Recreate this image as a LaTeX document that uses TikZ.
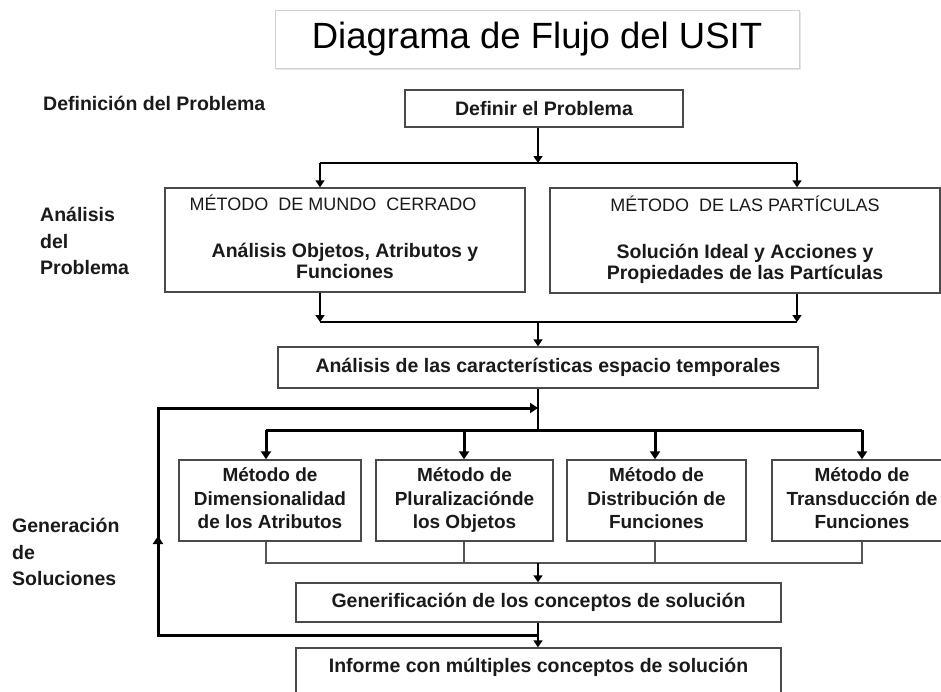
\documentclass[tikz,border=0pt]{standalone}
\usepackage{fontspec}
\setmainfont{Liberation Sans}
\usetikzlibrary{arrows.meta}
\definecolor{txt}{HTML}{1A1A1A}
\definecolor{boxgray}{HTML}{4A4A4A}
\definecolor{linegray}{HTML}{555555}
\newcommand{\hdrfont}{\fontsize{18}{21}\selectfont\mdseries}
\begin{document}
\begin{tikzpicture}[x=1pt,y=-1pt,
  box/.style={draw=boxgray, line width=1.4pt, fill=white, inner sep=0pt, align=center,
    font=\fontsize{19.5}{21}\selectfont\bfseries, text=txt},
  quad/.style={box, minimum height=81pt, font=\fontsize{19}{23.5}\selectfont\bfseries},
  lbl/.style={font=\fontsize{19.5}{26.5}\selectfont\bfseries, text=txt, anchor=west, align=left, inner sep=0pt},
  conn/.style={draw=black, line width=1.6pt},
  gconn/.style={draw=linegray, line width=1.6pt},
  heavy/.style={draw=black, line width=3pt},
  arr/.style={conn, -{Triangle[length=7pt,width=9pt]}},
  harr/.style={heavy, -{Triangle[length=8pt,width=10pt]}}
]
\useasboundingbox (0,0) rectangle (941,691);
\clip (0,0) rectangle (941,691);
\fill[white] (0,0) rectangle (941,691);

% title
\fill[black!10] (276,12) rectangle (801,70);
\node[draw=black!18, line width=0.8pt, fill=white, minimum width=524pt, minimum height=58pt, inner sep=0pt,
  font=\fontsize{36.5}{40}\selectfont, text=black] (title) at (537,39) {Diagrama de Flujo del USIT};

% side labels
\node[lbl] (l1) at (43,103) {Definición del Problema};
\node[lbl] (l2) at (40,241) {Análisis\\del\\Problema};
\node[lbl] (l3) at (12,552) {Generación\\de\\Soluciones};

% boxes
\node[box, minimum width=278pt, minimum height=37pt] (def) at (544,108.5) {Definir el Problema};
\node[box, minimum width=360pt, minimum height=104pt] (mmc) at (345,240)
  {{\hdrfont\strut MÉTODO\ \ DE MUNDO\ \ CERRADO\hspace*{24pt}}\\[26pt]Análisis Objetos, Atributos y\\Funciones\strut};
\node[box, minimum width=390pt, minimum height=105pt] (par) at (745,240.5)
  {{\hdrfont\strut MÉTODO\ \ DE LAS PARTÍCULAS}\\[26pt]Solución Ideal y Acciones y\\Propiedades de las Partículas\strut};
\node[box, minimum width=540pt, minimum height=41pt] (car) at (548,367.5)
  {Análisis de las características espacio temporales};

\node[quad, minimum width=182pt] (b1) at (270,500.5)
  {\strut Método de\\Dimensionalidad\\de los Atributos\strut};
\node[quad, minimum width=177pt] (b2) at (464.5,500.5)
  {\strut Método de\\Pluralizaciónde\\los Objetos\strut};
\node[quad, minimum width=179pt] (b3) at (656.5,500.5)
  {\strut Método de\\Distribución de\\Funciones\strut};
\node[quad, minimum width=180pt] (b4) at (862,500.5)
  {\strut Método de\\Transducción de\\Funciones\strut};

\node[box, minimum width=485pt, minimum height=39pt] (gen) at (538.5,602.5)
  {Generificación de los conceptos de solución};
\node[box, minimum width=485pt, minimum height=48pt] (inf) at (538.5,672) {};
\node[font=\fontsize{19.5}{21}\selectfont\bfseries, text=txt, inner sep=0pt] (inft) at (538.5,667)
  {Informe con múltiples conceptos de solución};

% junction coordinates
\coordinate (ja) at (538,163);
\coordinate (jl) at (320,163);
\coordinate (jr) at (797,163);
\coordinate (ka) at (538,322);
\coordinate (kl) at (320,322);
\coordinate (kr) at (797,322);
\coordinate (fa) at (538,408);
\coordinate (ma) at (538,430);
\coordinate (m1) at (266,430);
\coordinate (m2) at (464,430);
\coordinate (m3) at (655,430);
\coordinate (m4) at (862,430);
\coordinate (na) at (538,563);
\coordinate (lpa) at (538,635);
\coordinate (lpb) at (158,635);
\coordinate (lpc) at (158,408);
\coordinate (lpm) at (158,536);

% top connectors
\draw[arr] (def.south -| ja) -- (ja);
\draw[conn] (jl) -- (jr);
\draw[arr] (jl) -- (mmc.north -| jl);
\draw[arr] (jr) -- (par.north -| jr);

\draw[arr] (mmc.south -| kl) -- (kl);
\draw[arr] (par.south -| kr) -- (kr);
\draw[conn] (kl) -- (kr);
\draw[arr] (ka) -- (car.north -| ka);

% middle
\draw[conn] (car.south -| ma) -- (ma);
\draw[heavy] (m1) -- (m4);
\draw[harr] (m1) -- (b1.north -| m1);
\draw[harr] (m2) -- (b2.north -| m2);
\draw[harr] (m3) -- (b3.north -| m3);
\draw[harr] (m4) -- (b4.north -| m4);

% bottom junction
\draw[gconn] (b1.south -| m1) |- (na);
\draw[gconn] (b4.south -| m4) |- (na);
\draw[gconn] (b2.south -| m2) -- (m2 |- na);
\draw[gconn] (b3.south -| m3) -- (m3 |- na);
\draw[arr] (na) -- (gen.north -| na);

% to report
\draw[arr] (gen.south -| lpa) -- (inf.north -| lpa);

% feedback loop
\draw[harr] (lpa) -- (lpb) -- (lpc) -- (fa);
\draw[harr] (lpb) -- (lpm);
\end{tikzpicture}
\end{document}
